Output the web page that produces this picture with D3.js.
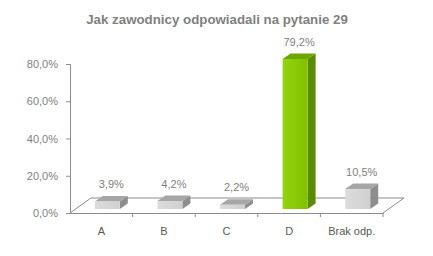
<!DOCTYPE html>
<html>
<head>
<meta charset="utf-8">
<script src="https://cdn.jsdelivr.net/npm/d3@7"></script>
<style>
  body { margin: 0; background: #fff; }
  svg { display: block; font-family: Arial, "Liberation Sans", sans-serif; }
</style>
</head>
<body>
<div id="chart"></div>
<script>
// answers and share of respondents (%)
const categories = ["A", "B", "C", "D", "Brak odp."];
const values = [3.9, 4.2, 2.2, 79.2, 10.5];
const valueLabels = ["3,9%", "4,2%", "2,2%", "79,2%", "10,5%"];
const yTicks = [0, 20, 40, 60, 80];
const highlight = "D";

const width = 433, height = 256;
const svg = d3.select("#chart").append("svg")
  .attr("width", width)
  .attr("height", height);

// front plane of the floor
const x = d3.scaleBand().domain(categories).range([70, 383]).padding(0);
const y = d3.scaleLinear().domain([0, 80]).range([213, 64]);
// plane where the bars stand (a bit behind the front edge)
const yBar = d3.scaleLinear().domain([0, 80]).range([209, 57.5]);

const floorDepth = [21, -15];  // front -> back edge of the floor
const barShift = 6;            // bars are drawn a bit to the right / back
const barW = 25;
const depth = [8, -5.5];       // 3d depth of a bar

// title
svg.append("text")
  .attr("x", 217).attr("y", 24)
  .attr("text-anchor", "middle")
  .attr("font-size", 13.3).attr("font-weight", "bold")
  .attr("fill", "#7f7f7f")
  .text("Jak zawodnicy odpowiadali na pytanie 29");

// floor outline
const x0 = x.range()[0], x1 = x.range()[1], y0 = y(0);
svg.append("path")
  .attr("d", `M${x0},${y0} L${x0 + floorDepth[0]},${y0 + floorDepth[1]} L${x1 + floorDepth[0]},${y0 + floorDepth[1]} L${x1},${y0}`)
  .attr("fill", "none").attr("stroke", "#8c8c8c").attr("stroke-width", 1);

// y axis
const yAxis = svg.append("g")
  .attr("transform", `translate(${x0},0)`)
  .call(d3.axisLeft(y).tickValues(yTicks).tickSize(4).tickPadding(8)
    .tickFormat(d => d3.format(".1f")(d).replace(".", ",") + "%"));
yAxis.select(".domain").attr("stroke", "#8c8c8c");
yAxis.selectAll(".tick line").attr("stroke", "#8c8c8c");
yAxis.selectAll(".tick text").attr("fill", "#808080").attr("font-size", 11)
  .attr("font-family", "Arial, 'Liberation Sans', sans-serif");

// x axis
const xAxis = svg.append("g")
  .attr("transform", `translate(0,${y0})`)
  .call(d3.axisBottom(x).tickSize(0).tickPadding(14));
xAxis.select(".domain").attr("stroke", "#8c8c8c");
xAxis.selectAll(".tick text").attr("fill", "#595959").attr("font-size", 11)
  .attr("font-family", "Arial, 'Liberation Sans', sans-serif");
// tick marks between categories
svg.append("g").selectAll("line")
  .data(categories)
  .join("line")
  .attr("x1", d => x(d) + x.bandwidth()).attr("x2", d => x(d) + x.bandwidth())
  .attr("y1", y0).attr("y2", y0 + 4)
  .attr("stroke", "#8c8c8c");

// gradients for the front faces
const defs = svg.append("defs");
const gGreen = defs.append("linearGradient").attr("id", "gGreen");
gGreen.append("stop").attr("offset", "0%").attr("stop-color", "#92d40e");
gGreen.append("stop").attr("offset", "100%").attr("stop-color", "#82c000");
const gGray = defs.append("linearGradient").attr("id", "gGray");
gGray.append("stop").attr("offset", "0%").attr("stop-color", "#dcdcdc");
gGray.append("stop").attr("offset", "100%").attr("stop-color", "#d0d0d0");

const colors = {
  green: { front: "url(#gGreen)", top: "#6ea600", side: "#5a8c00" },
  gray: { front: "url(#gGray)", top: "#a6a6a6", side: "#8e8e8e" }
};

const data = categories.map((c, i) => ({ cat: c, value: values[i], label: valueLabels[i] }));

const bars = svg.append("g").selectAll("g")
  .data(data)
  .join("g")
  .each(function (d) {
    const g = d3.select(this);
    const c = d.cat === highlight ? colors.green : colors.gray;
    const bx0 = x(d.cat) + x.bandwidth() / 2 + barShift - barW / 2;
    const bx1 = bx0 + barW;
    const yt = yBar(d.value), yb = yBar(0);
    const [dx, dy] = depth;
    g.append("polygon")
      .attr("points", [[bx1, yt], [bx1 + dx, yt + dy], [bx1 + dx, yb + dy], [bx1, yb]].join(" "))
      .attr("fill", c.side);
    g.append("polygon")
      .attr("points", [[bx0, yt], [bx1, yt], [bx1 + dx, yt + dy], [bx0 + dx, yt + dy]].join(" "))
      .attr("fill", c.top);
    g.append("rect")
      .attr("x", bx0).attr("y", yt)
      .attr("width", barW).attr("height", yb - yt)
      .attr("fill", c.front);
    g.append("text")
      .attr("x", bx0 + barW / 2 + dx / 2)
      .attr("y", yt + dy - 8)
      .attr("text-anchor", "middle")
      .attr("font-size", 11).attr("fill", "#808080")
      .text(d.label);
  });
</script>
</body>
</html>
